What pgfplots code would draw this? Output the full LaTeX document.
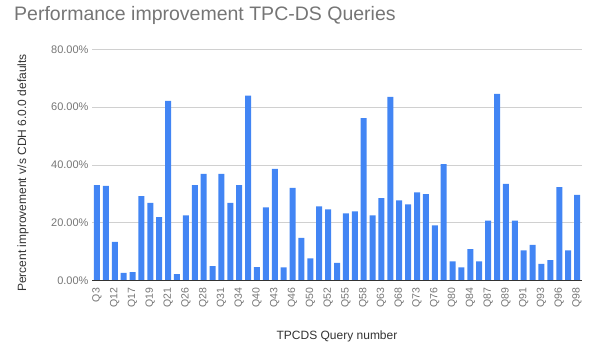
\documentclass[border=0pt]{standalone}
\usepackage{pgfplots}
\pgfplotsset{compat=1.18}
\usepackage{fontspec}
\setmainfont{Liberation Sans}
\definecolor{barblue}{HTML}{4285F4}
\definecolor{titlegray}{HTML}{757575}
\definecolor{tickgray}{HTML}{757575}
\definecolor{labelgray}{HTML}{333333}
\definecolor{gridgray}{HTML}{D0D0D0}
\begin{document}
\begin{tikzpicture}[x=1pt,y=1pt]
\path[use as bounding box] (0,0) rectangle (597,353);
\begin{axis}[
  at={(92pt,72.7pt)}, anchor=south west,
  scale only axis, width=490pt, height=230.8pt,
  xmin=-0.56, xmax=54.56, ymin=0, ymax=80,
  ybar, bar width=6pt,
  axis line style={draw=none},
  ymajorgrids, grid style={gridgray, line width=0.6pt},
  ytick={0,20,40,60,80},
  yticklabels={0.00\%,20.00\%,40.00\%,60.00\%,80.00\%},
  xtick={0,2,...,54},
  xticklabels={Q3,Q12,Q17,Q19,Q21,Q26,Q28,Q31,Q34,Q40,Q43,Q46,Q50,Q52,Q55,Q58,Q63,Q68,Q73,Q76,Q80,Q84,Q87,Q89,Q91,Q93,Q96,Q98},
  tick style={draw=none},
  yticklabel style={font=\fontsize{11}{13}\selectfont, text=tickgray},
  xticklabel style={font=\fontsize{10.5}{12}\selectfont, text=tickgray, rotate=90, anchor=east},
  xlabel={TPCDS Query number},
  xlabel style={at={(axis description cs:0.5,-0.241)}, anchor=center, font=\fontsize{12}{14}\selectfont, text=labelgray},
  ylabel={Percent improvement v/s CDH 6.0.0 defaults},
  ylabel style={at={(axis description cs:-0.1408,0.465)}, anchor=center, rotate=0, font=\fontsize{12}{14}\selectfont, text=labelgray},
]
\addplot[fill=barblue, draw=none] coordinates {
(0,33.0) (1,32.7) (2,13.3) (3,2.6) (4,2.8) (5,29.2) (6,26.8) (7,21.9) (8,62.2) (9,2.1)
(10,22.5) (11,33.0) (12,36.9) (13,4.9) (14,36.9) (15,26.8) (16,33.0) (17,64.0) (18,4.6) (19,25.3)
(20,38.6) (21,4.5) (22,32.0) (23,14.7) (24,7.6) (25,25.6) (26,24.6) (27,6.0) (28,23.2) (29,23.9)
(30,56.2) (31,22.5) (32,28.5) (33,63.6) (34,27.7) (35,26.3) (36,30.5) (37,29.9) (38,19.0) (39,40.3)
(40,6.6) (41,4.5) (42,10.8) (43,6.6) (44,20.7) (45,64.6) (46,33.4) (47,20.7) (48,10.4) (49,12.3)
(50,5.7) (51,7.0) (52,32.3) (53,10.4) (54,29.6)
};
\draw[labelgray, line width=0.8pt] (axis cs:-0.56,0) -- (axis cs:54.56,0);
\end{axis}
\node[anchor=base west, inner sep=0pt, text=titlegray, font=\fontsize{19.5}{22}\selectfont] at (14,332) {Performance improvement TPC-DS Queries};
\end{tikzpicture}
\end{document}
